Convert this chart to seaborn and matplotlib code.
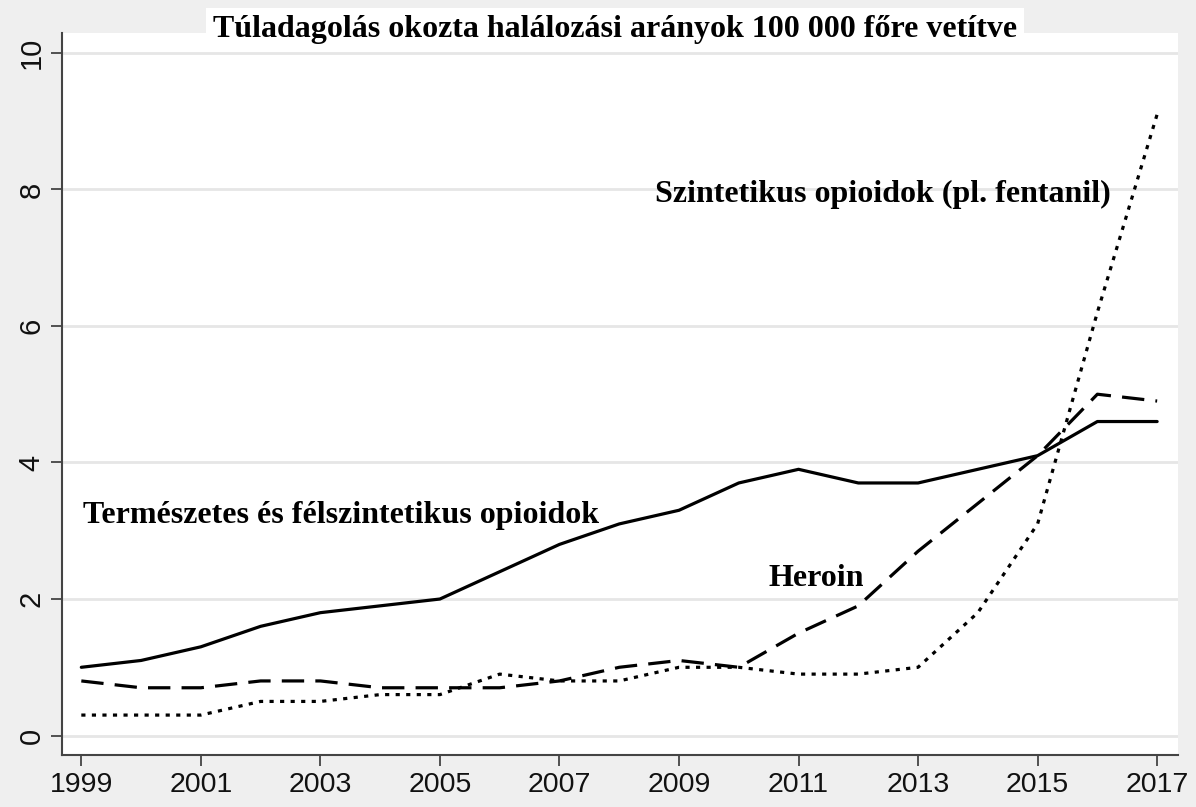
import pandas as pd
import seaborn as sns
import matplotlib.pyplot as plt

# rates per 100 000
years = list(range(1999, 2018))
natural = [1.0, 1.1, 1.3, 1.6, 1.8, 1.9, 2.0, 2.4, 2.8, 3.1, 3.3, 3.7, 3.9, 3.7, 3.7, 3.9, 4.1, 4.6, 4.6]
heroin = [0.8, 0.7, 0.7, 0.8, 0.8, 0.7, 0.7, 0.7, 0.8, 1.0, 1.1, 1.0, 1.5, 1.9, 2.7, 3.4, 4.1, 5.0, 4.9]
synthetic = [0.3, 0.3, 0.3, 0.5, 0.5, 0.6, 0.6, 0.9, 0.8, 0.8, 1.0, 1.0, 0.9, 0.9, 1.0, 1.8, 3.1, 6.2, 9.1]

series_names = ["natural", "heroin", "synthetic"]
x_ticks = list(range(1999, 2018, 2))
y_ticks = [0, 2, 4, 6, 8, 10]

title = "Túladagolás okozta halálozási arányok 100 000 főre vetítve"
label_natural = "Természetes és félszintetikus opioidok"
label_heroin = "Heroin"
label_synthetic = "Szintetikus opioidok (pl. fentanil)"

df = pd.DataFrame({"year": years * 3,
                   "rate": natural + heroin + synthetic,
                   "series": [s for s in series_names for _ in years]})

sns.set_style("white")
plt.rcParams['font.family'] = ['Liberation Sans', 'DejaVu Sans']

fig = plt.figure(figsize=(11.96, 8.07), dpi=100, facecolor="#efefef")
ax = fig.add_axes([0.052, 0.064, 0.933, 0.895])
ax.set_facecolor("white")

# horizontal grid
for yv in y_ticks:
    ax.axhline(yv, color="#e6e6e6", lw=2, zorder=0)

sns.lineplot(data=df, x="year", y="rate", style="series", color="black",
             dashes={"natural": "", "heroin": (7, 3.5), "synthetic": (1.3, 2.0)},
             linewidth=2.3, legend=False, ax=ax)

ax.set_xlim(1998.68, 2017.35)
ax.set_ylim(-0.29, 10.29)
ax.set_xticks(x_ticks)
ax.set_yticks(y_ticks)
ax.set_xticklabels([str(v) for v in x_ticks], fontsize=20.5, color="#111111")
ax.set_yticklabels([str(v) for v in y_ticks], fontsize=21, color="#111111",
                   rotation=90, va="center")
ax.tick_params(axis="both", direction="out", length=8, width=1.3, color="#444444",
               left=True, bottom=True, pad=4)
ax.set_xlabel("")
ax.set_ylabel("")

for side in ["top", "right"]:
    ax.spines[side].set_visible(False)
for side in ["left", "bottom"]:
    ax.spines[side].set_color("#444444")
    ax.spines[side].set_linewidth(1.5)

serif = dict(family=["Liberation Serif", "DejaVu Serif"], fontweight="bold",
             fontsize=23, color="black")
ax.text(2008.6, 7.92, label_synthetic, ha="left", va="center", **serif)
ax.text(1999.03, 3.23, label_natural, ha="left", va="center", **serif)
ax.text(2010.49, 2.3, label_heroin, ha="left", va="center", **serif)

fig.text(0.514, 0.963, title, ha="center", va="center",
         bbox=dict(facecolor="white", edgecolor="none", pad=5), **serif)

fig.savefig("out.png", dpi=100, facecolor=fig.get_facecolor())
